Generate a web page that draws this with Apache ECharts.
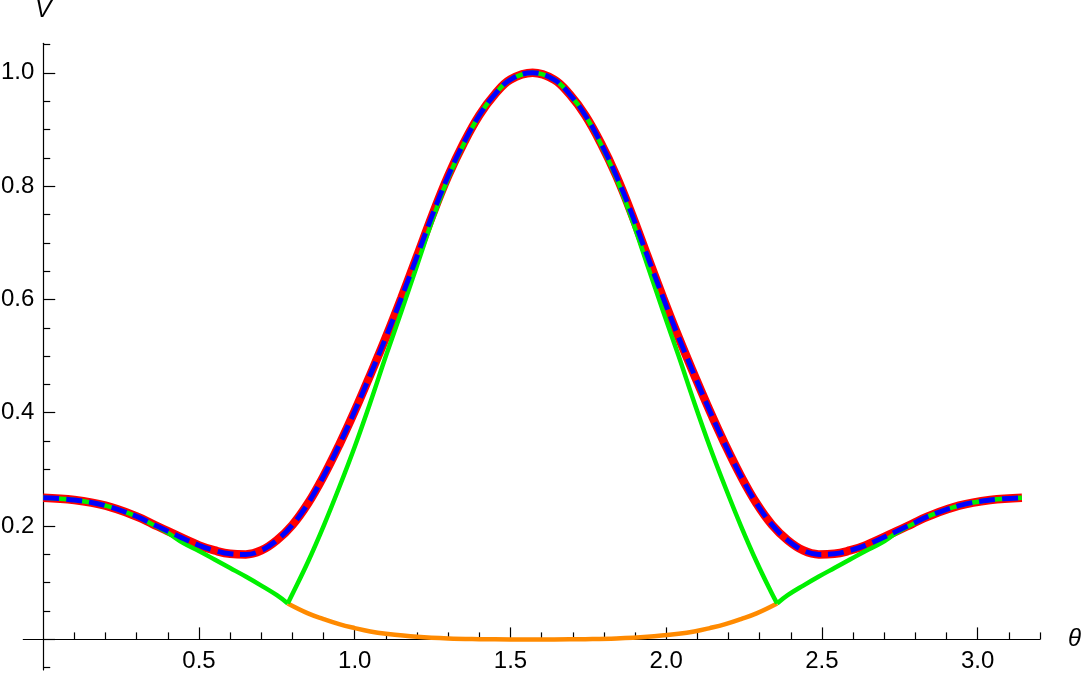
<!DOCTYPE html>
<html>
<head>
<meta charset="utf-8">
<script src="https://cdn.jsdelivr.net/npm/echarts@6/dist/echarts.min.js"></script>
<style>
  html, body { margin: 0; padding: 0; background: #fff; }
  #chart { width: 1083px; height: 675px; }
</style>
</head>
<body>
<div id="chart"></div>
<script>
// full curve V(theta), red band with blue dashes on top
const thetaFull = [0, 0.1, 0.2, 0.3, 0.35, 0.4, 0.5, 0.55, 0.6, 0.65, 0.7, 0.75, 0.8, 0.85, 0.9, 0.95,
  1.0, 1.05, 1.1, 1.15, 1.2, 1.25, 1.3, 1.35, 1.4, 1.45, 1.5, 1.571,
  1.64, 1.69, 1.74, 1.79, 1.84, 1.89, 1.94, 1.99, 2.04, 2.09, 2.14, 2.19, 2.24, 2.29, 2.34,
  2.39, 2.44, 2.49, 2.54, 2.59, 2.64, 2.74, 2.79, 2.84, 2.94, 3.04, 3.142]
const vFull = [0.250, 0.246, 0.236, 0.217, 0.204, 0.191, 0.166, 0.157, 0.151, 0.150, 0.157, 0.175, 0.202, 0.240, 0.288, 0.343,
  0.403, 0.467, 0.533, 0.603, 0.676, 0.750, 0.818, 0.876, 0.925, 0.962, 0.988, 1.000,
  0.988, 0.962, 0.925, 0.876, 0.818, 0.750, 0.676, 0.603, 0.533, 0.467, 0.403, 0.343, 0.288, 0.240, 0.202,
  0.175, 0.157, 0.150, 0.151, 0.157, 0.166, 0.191, 0.204, 0.217, 0.236, 0.246, 0.250]

// green curve, split at the two kinks
const thetaGreenLeft = [0, 0.1, 0.2, 0.3, 0.35, 0.4, 0.45, 0.5, 0.55, 0.6, 0.65, 0.7, 0.75, 0.785]
const vGreenLeft = [0.250, 0.246, 0.236, 0.217, 0.203, 0.188, 0.170, 0.156, 0.141, 0.126, 0.111, 0.095, 0.078, 0.0635]

const thetaGreenMid = [0.785, 0.8, 0.85, 0.9, 0.95, 1.0, 1.05, 1.1, 1.15, 1.2, 1.25, 1.3, 1.35, 1.4, 1.45, 1.5, 1.571,
  1.64, 1.69, 1.74, 1.79, 1.84, 1.89, 1.94, 1.99, 2.04, 2.09, 2.14, 2.19, 2.24, 2.29, 2.34, 2.356]
const vGreenMid = [0.0635, 0.080, 0.137, 0.200, 0.268, 0.340, 0.418, 0.500, 0.579, 0.660, 0.741, 0.814, 0.874, 0.925, 0.962, 0.988, 1.000,
  0.988, 0.962, 0.925, 0.874, 0.814, 0.741, 0.660, 0.579, 0.500, 0.418, 0.340, 0.268, 0.200, 0.137, 0.080, 0.0635]

const thetaGreenRight = [2.356, 2.39, 2.44, 2.49, 2.54, 2.59, 2.64, 2.69, 2.74, 2.79, 2.84, 2.94, 3.04, 3.142]
const vGreenRight = [0.0635, 0.078, 0.095, 0.111, 0.126, 0.141, 0.156, 0.170, 0.188, 0.203, 0.217, 0.236, 0.246, 0.250]

// orange curve between the kinks
const thetaOrange = [0.785, 0.85, 0.9, 0.95, 1.0, 1.05, 1.1, 1.2, 1.3, 1.4, 1.5, 1.571,
  1.64, 1.74, 1.84, 1.94, 2.04, 2.09, 2.14, 2.19, 2.24, 2.29, 2.356]
const vOrange = [0.0635, 0.046, 0.036, 0.027, 0.020, 0.014, 0.010, 0.0045, 0.0015, 0.0004, 0.0, 0.0,
  0.0, 0.0004, 0.0015, 0.0045, 0.010, 0.014, 0.020, 0.027, 0.036, 0.046, 0.0635]

const xMajorTicks = [0.5, 1.0, 1.5, 2.0, 2.5, 3.0]
const xMinorTicks = [0.1, 0.2, 0.3, 0.4, 0.6, 0.7, 0.8, 0.9, 1.1, 1.2, 1.3, 1.4, 1.6, 1.7, 1.8, 1.9,
  2.1, 2.2, 2.3, 2.4, 2.6, 2.7, 2.8, 2.9, 3.1, 3.2]
const yMajorTicks = [0, 0.2, 0.4, 0.6, 0.8, 1.0]
const yLabels = [0.2, 0.4, 0.6, 0.8, 1.0]
const yMinorTicks = [-0.05, 0.05, 0.1, 0.15, 0.25, 0.3, 0.35, 0.45, 0.5, 0.55, 0.65, 0.7, 0.75,
  0.85, 0.9, 0.95, 1.05]

const pairs = (xs, ys) => xs.map((x, i) => [x, ys[i]])

const chart = echarts.init(document.getElementById('chart'), null, { renderer: 'canvas' })

const font = 'Liberation Sans, Arial, sans-serif'
const xRange = { min: -0.064, max: 3.2 }
const yRange = { min: -0.054, max: 1.052 }
// axes cross at (0, 0), inside the plot area
const xAxisShift = -30.6
const yAxisShift = -19.94

const tickStyle = { color: '#000', width: 1.2 }

const line = (name, xs, ys, color, width, extra) => ({
  name,
  type: 'line',
  data: pairs(xs, ys),
  smooth: 0.4,
  symbol: 'none',
  silent: true,
  lineStyle: Object.assign({ color, width }, extra || {})
})

const option = {
  animation: false,
  backgroundColor: '#ffffff',
  grid: { left: 23.3, right: 43, top: 43.3, bottom: 5, containLabel: false, outerBoundsMode: 'none' },
  xAxis: [
    {
      type: 'value',
      position: 'bottom',
      offset: xAxisShift,
      ...xRange,
      name: 'θ',
      nameLocation: 'end',
      nameGap: 28,
      nameTextStyle: { fontFamily: font, fontSize: 24, fontStyle: 'italic', color: '#000' },
      axisLine: { onZero: false, lineStyle: tickStyle },
      axisTick: { inside: true, length: 12, customValues: xMajorTicks, lineStyle: tickStyle },
      axisLabel: {
        customValues: xMajorTicks,
        margin: 10,
        color: '#000',
        fontFamily: font,
        fontSize: 24,
        formatter: v => v.toFixed(1)
      },
      splitLine: { show: false }
    },
    {
      type: 'value',
      position: 'bottom',
      offset: xAxisShift,
      ...xRange,
      axisLine: { show: false, onZero: false },
      axisTick: { inside: true, length: 7, customValues: xMinorTicks, lineStyle: tickStyle },
      axisLabel: { show: false },
      splitLine: { show: false }
    }
  ],
  yAxis: [
    {
      type: 'value',
      position: 'left',
      offset: yAxisShift,
      ...yRange,
      name: 'V',
      nameLocation: 'end',
      nameGap: 21,
      nameTextStyle: { fontFamily: font, fontSize: 24, fontStyle: 'italic', color: '#000' },
      axisLine: { onZero: false, lineStyle: tickStyle },
      axisTick: { inside: true, length: 12, customValues: yMajorTicks, lineStyle: tickStyle },
      axisLabel: {
        customValues: yLabels,
        margin: 9,
        color: '#000',
        fontFamily: font,
        fontSize: 24,
        formatter: v => v.toFixed(1)
      },
      splitLine: { show: false }
    },
    {
      type: 'value',
      position: 'left',
      offset: yAxisShift,
      ...yRange,
      axisLine: { show: false, onZero: false },
      axisTick: { inside: true, length: 7, customValues: yMinorTicks, lineStyle: tickStyle },
      axisLabel: { show: false },
      splitLine: { show: false }
    }
  ],
  series: [
    line('full', thetaFull, vFull, '#ff0000', 8.5),
    line('orange', thetaOrange, vOrange, '#ff8a00', 4.5),
    line('greenLeft', thetaGreenLeft, vGreenLeft, '#00f000', 4.5),
    line('greenMid', thetaGreenMid, vGreenMid, '#00f000', 4.5),
    line('greenRight', thetaGreenRight, vGreenRight, '#00f000', 4.5),
    line('fullDashed', thetaFull, vFull, '#0000ff', 5, { type: [16, 7] })
  ]
}

chart.setOption(option, true)
window.addEventListener('resize', () => chart.resize())
</script>
</body>
</html>
